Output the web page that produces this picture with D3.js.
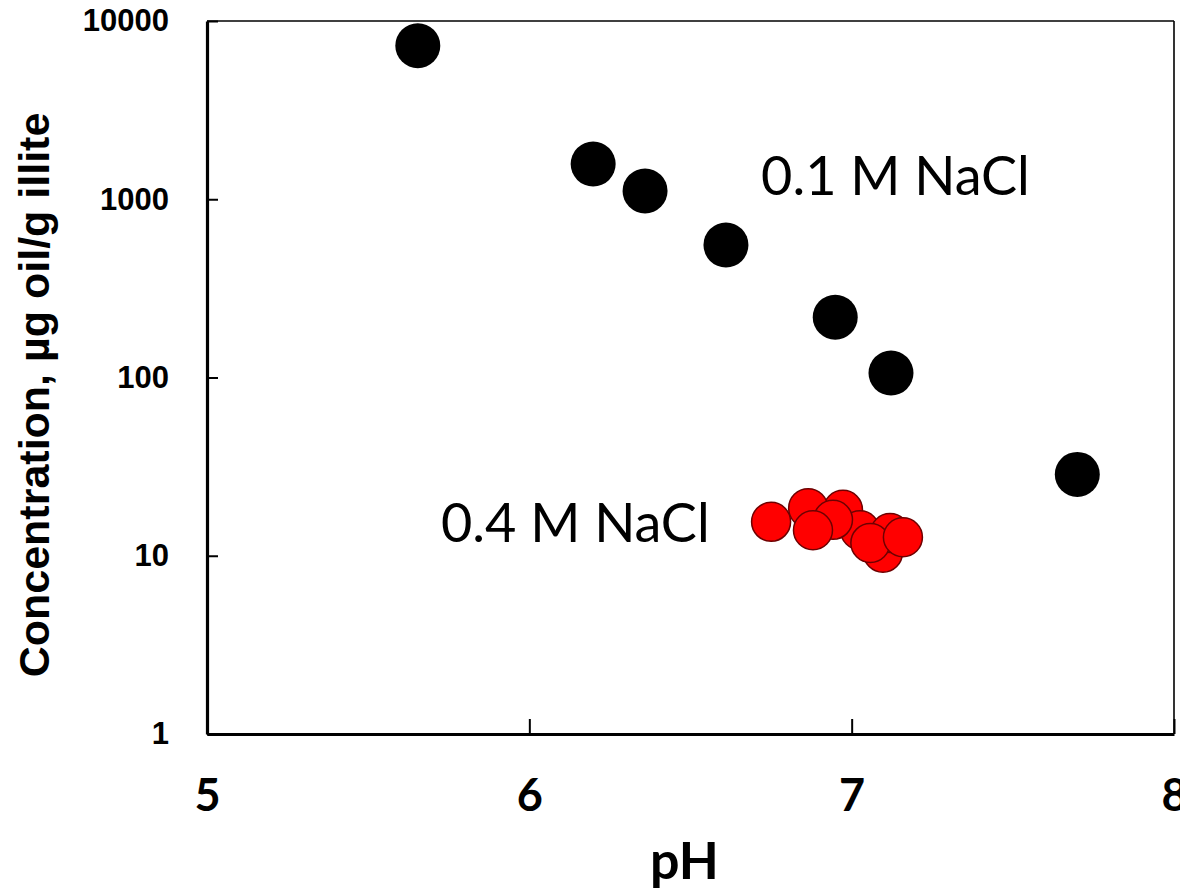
<!DOCTYPE html>
<html>
<head>
<meta charset="utf-8">
<script src="https://cdn.jsdelivr.net/npm/d3@7"></script>
<style>
  html, body { margin: 0; padding: 0; background: #fff; }
  svg { display: block; }
</style>
</head>
<body>
<script>
// 0.1 M NaCl series
const phLow = [5.654, 6.198, 6.359, 6.610, 6.949, 7.122, 7.700];
const concLow = [7268, 1577, 1113, 554, 218, 106, 28.6];

// 0.4 M NaCl series (drawn back to front)
const phHigh = [6.973, 6.865, 7.026, 6.942, 6.750, 6.880, 7.097, 7.119, 7.058, 7.159];
const concHigh = [18.1, 18.5, 13.9, 15.9, 15.5, 13.9, 10.4, 13.4, 11.8, 12.7];

const xTicks = [5, 6, 7, 8];
const yTicks = [1, 10, 100, 1000, 10000];

const width = 1180, height = 894;
const margin = {top: 21, right: 6, bottom: 160, left: 207};

let svg = d3.select("body")
            .append("svg")
            .attr("width", width)
            .attr("height", height);

let x = d3.scaleLinear()
          .domain([5, 8])
          .range([margin.left, width - margin.right]);

let y = d3.scaleLog()
          .domain([1, 10000])
          .range([height - margin.bottom, margin.top]);

// thin top and right frame
svg.append("line")
   .attr("x1", x(5)).attr("x2", x(8))
   .attr("y1", y(10000)).attr("y2", y(10000))
   .attr("stroke", "#000").attr("stroke-width", 1.6);
svg.append("line")
   .attr("x1", x(8)).attr("x2", x(8))
   .attr("y1", y(10000)).attr("y2", y(1))
   .attr("stroke", "#000").attr("stroke-width", 1.6);

// x axis
let xAxis = svg.append("g")
   .attr("transform", `translate(0,${y(1)})`)
   .call(d3.axisBottom(x).tickValues(xTicks).tickFormat(d3.format("d"))
           .tickSizeInner(-15).tickSizeOuter(0).tickPadding(45));
xAxis.select(".domain").attr("stroke-width", 3.2);
xAxis.selectAll(".tick line").attr("stroke-width", 2);
xAxis.selectAll("text")
     .attr("font-family", "Lato, 'Open Sans', sans-serif")
     .attr("font-weight", "bold")
     .attr("font-size", 45)
     .attr("fill", "#000");

// y axis
let yAxis = svg.append("g")
   .attr("transform", `translate(${x(5)},0)`)
   .call(d3.axisLeft(y).tickValues(yTicks).tickFormat(d3.format("d"))
           .tickSizeInner(-11).tickSizeOuter(0).tickPadding(38));
yAxis.select(".domain").attr("stroke-width", 3.2);
yAxis.selectAll(".tick line").attr("stroke-width", 2);
yAxis.selectAll("text")
     .attr("font-family", "'Liberation Sans', Arial, sans-serif")
     .attr("font-weight", "bold")
     .attr("font-size", 31)
     .attr("fill", "#000");

// axis titles
svg.append("text")
   .attr("x", (x(5) + x(8)) / 2 - 6)
   .attr("y", 879)
   .attr("text-anchor", "middle")
   .attr("font-family", "Lato, 'Open Sans', sans-serif")
   .attr("font-weight", "bold")
   .attr("font-size", 52)
   .text("pH");

svg.append("text")
   .attr("transform", "translate(49,395) rotate(-90)")
   .attr("text-anchor", "middle")
   .attr("font-family", "'Liberation Sans', Arial, sans-serif")
   .attr("font-weight", "bold")
   .attr("font-size", 43)
   .text("Concentration, µg oil/g illite");

// points
svg.append("g")
   .selectAll("circle")
   .data(phLow.map((p, i) => [p, concLow[i]]))
   .join("circle")
   .attr("cx", d => x(d[0]))
   .attr("cy", d => y(d[1]))
   .attr("r", 22.5)
   .attr("fill", "#000");

svg.append("g")
   .selectAll("circle")
   .data(phHigh.map((p, i) => [p, concHigh[i]]))
   .join("circle")
   .attr("cx", d => x(d[0]))
   .attr("cy", d => y(d[1]))
   .attr("r", 19.5)
   .attr("fill", "#ff0000")
   .attr("stroke", "#6e0000")
   .attr("stroke-width", 1.5);

// series labels
svg.append("text")
   .attr("x", x(6.719))
   .attr("y", y(1057))
   .attr("font-family", "Lato, 'Open Sans', sans-serif")
   .attr("font-size", 54)
   .text("0.1 M NaCl");

svg.append("text")
   .attr("x", x(5.726))
   .attr("y", y(11.9))
   .attr("font-family", "Lato, 'Open Sans', sans-serif")
   .attr("font-size", 54)
   .text("0.4 M NaCl");
</script>
</body>
</html>
